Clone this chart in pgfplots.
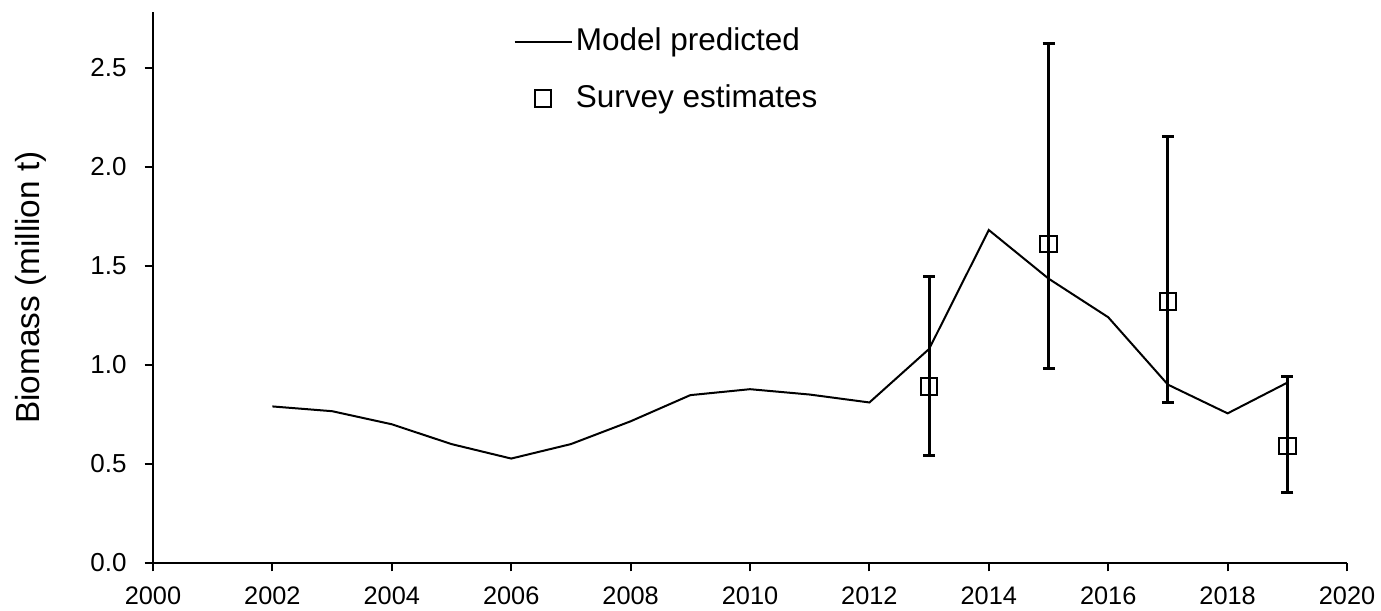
\documentclass[border=0pt]{standalone}
\usepackage{fontspec}
\setmainfont{Liberation Sans}
\usepackage{pgfplots}
\pgfplotsset{compat=1.18}
\begin{document}
\begin{tikzpicture}
\begin{axis}[
  name=ax,
  scale only axis,
  width=358.2pt, height=165.3pt,
  xmin=2000, xmax=2020, ymin=0, ymax=2.78,
  axis x line=bottom, axis y line=left,
  axis line style={-, line width=0.6pt},
  xtick={2000,2002,...,2020},
  ytick={0,0.5,...,2.5},
  tick align=outside, major tick length=2.5pt,
  tick style={line width=0.6pt, black},
  /pgf/number format/assume math mode=true,
  xticklabel style={/pgf/number format/1000 sep={}, font=\fontsize{7.6}{9}\selectfont, yshift=-1pt},
  yticklabel style={/pgf/number format/fixed, /pgf/number format/fixed zerofill, /pgf/number format/precision=1, font=\fontsize{7.8}{9}\selectfont, xshift=-1.9pt},
  ylabel={Biomass (million t)},
  every axis y label/.style={at={(axis description cs:0,0.5)}, rotate=90, anchor=center, yshift=36.6pt, font=\fontsize{10}{12}\selectfont},
  legend style={draw=none, fill=none, at={(0.3015,0.984)}, anchor=north west, font=\fontsize{9.45}{11}\selectfont, row sep=4.6pt, inner sep=0pt, nodes={inner xsep=1pt}},
  legend cell align=left,
]
\addplot[black, line width=0.6pt, mark=none] coordinates {
(2002,0.79) (2003,0.766) (2004,0.70) (2005,0.60) (2006,0.527) (2007,0.60)
(2008,0.715) (2009,0.847) (2010,0.877) (2011,0.85) (2012,0.81) (2013,1.08)
(2014,1.68) (2015,1.435) (2016,1.24) (2017,0.90) (2018,0.755) (2019,0.91)
};
\addlegendentry{Model predicted}
\addplot[black, only marks, mark=square, mark size=2.5pt, mark options={line width=0.6pt, fill=white},
  error bars/.cd, y dir=both, y explicit,
  error bar style={line width=0.9pt, black},
  error mark options={rotate=90, mark size=1.8pt, line width=0.9pt}]
  table[x=x, y=y, y error plus=ep, y error minus=em] {
x y ep em
2013 0.89 0.555 0.35
2015 1.61 1.01 0.63
2017 1.32 0.83 0.51
2019 0.59 0.35 0.235
};
\addlegendentry{Survey estimates}
\end{axis}
\pgfresetboundingbox
\path[use as bounding box] ([xshift=-45.9pt,yshift=-14.1pt]ax.south west) rectangle ([xshift=10.2pt,yshift=3.6pt]ax.north east);
\end{tikzpicture}
\end{document}
